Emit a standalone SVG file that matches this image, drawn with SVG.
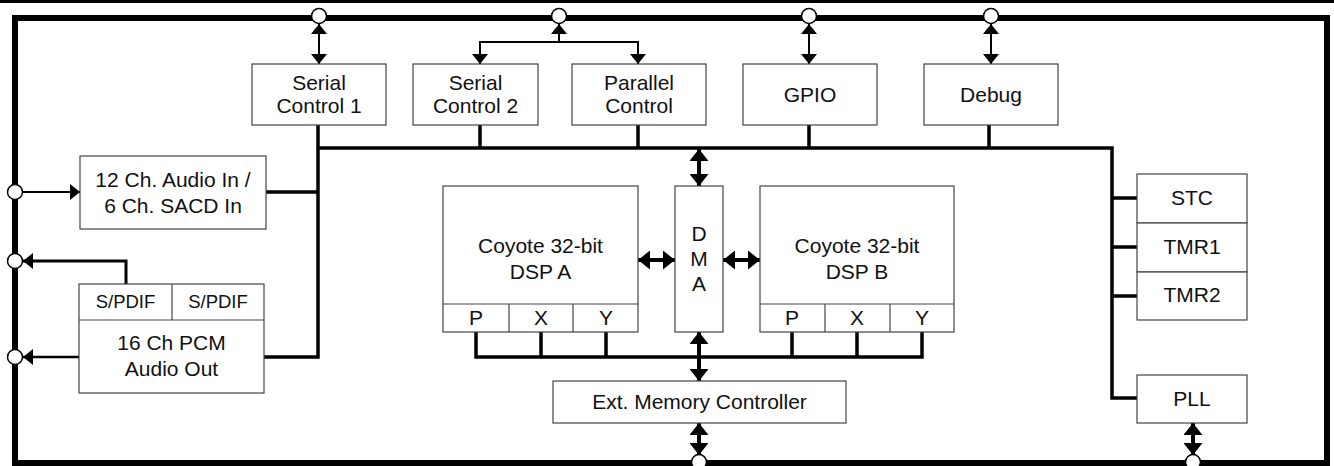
<svg xmlns="http://www.w3.org/2000/svg" width="1334" height="466" viewBox="0 0 1334 466">
<style>
.box{fill:#fff;stroke:#444;stroke-width:1.2}
.d{stroke:#444;stroke-width:1.2}
.t{font-family:"Liberation Sans",Arial,sans-serif;font-size:21px;fill:#111;text-anchor:middle}
.s{font-size:18.5px}
.pin{fill:#fff;stroke:#000;stroke-width:1.5}
.w{fill:none;stroke:#000;stroke-width:2}
.b{fill:none;stroke:#000;stroke-width:3.5}
.k{fill:none;stroke:#000;stroke-width:4}
</style>
<defs>
<marker id="a" markerUnits="userSpaceOnUse" markerWidth="11" markerHeight="16" refX="10" refY="8" orient="auto-start-reverse"><path d="M0,0 L10,8 L0,16 z" fill="#000"/></marker>
<marker id="A" markerUnits="userSpaceOnUse" markerWidth="13" markerHeight="19" refX="12" refY="9.5" orient="auto-start-reverse"><path d="M0,0 L12,9.5 L0,19 z" fill="#000"/></marker>
</defs>
<rect x="0" y="0" width="1334" height="3" fill="#000"/>
<rect id="frame" x="15" y="18" width="1312" height="445" fill="#fff" stroke="#000" stroke-width="6"/>

<g id="connectors">
<line class="w" x1="319" y1="24" x2="319" y2="64" marker-start="url(#a)" marker-end="url(#a)"/>
<line class="w" x1="559" y1="42" x2="559" y2="24" marker-end="url(#a)"/>
<path class="w" d="M480,64 L480,42 L638,42 L638,64" marker-start="url(#a)" marker-end="url(#a)"/>
<line class="w" x1="809" y1="24" x2="809" y2="64" marker-start="url(#a)" marker-end="url(#a)"/>
<line class="w" x1="991" y1="24" x2="991" y2="64" marker-start="url(#a)" marker-end="url(#a)"/>
<path class="b" d="M318,125 L318,357 L264,357"/>
<path class="b" d="M266,192 L318,192"/>
<path class="b" d="M318,148 L1112,148 L1112,398 L1137,398"/>
<path class="b" d="M480,125 V148 M638,125 V148 M809,125 V148 M989,125 V148"/>
<path class="b" d="M1112,198 H1137 M1112,247 H1137 M1112,296 H1137"/>
<line class="k" x1="699" y1="149" x2="699" y2="186" marker-start="url(#A)" marker-end="url(#A)"/>
<line class="k" x1="638" y1="260" x2="675" y2="260" marker-start="url(#A)" marker-end="url(#A)"/>
<line class="k" x1="723" y1="260" x2="760" y2="260" marker-start="url(#A)" marker-end="url(#A)"/>
<path class="b" d="M476,332 V357 H922 V332 M541,332 V357 M606,332 V357 M792,332 V357 M857,332 V357"/>
<line class="k" x1="699" y1="332" x2="699" y2="381" marker-start="url(#A)" marker-end="url(#A)"/>
<line class="k" x1="699" y1="423" x2="699" y2="455" marker-start="url(#A)" marker-end="url(#A)"/>
<line class="k" x1="1193" y1="423" x2="1193" y2="455" marker-start="url(#A)" marker-end="url(#A)"/>
<line class="w" x1="23" y1="192" x2="80" y2="192" marker-end="url(#a)"/>
<path class="w" style="stroke-width:3" d="M126,284 L126,261 L23,261" marker-end="url(#a)"/>
<line class="w" style="stroke-width:2.5" x1="79" y1="357" x2="23" y2="357" marker-end="url(#a)"/>
</g>

<g id="pins">
<circle class="pin" cx="319" cy="16" r="7.5"/>
<circle class="pin" cx="559" cy="16" r="7.5"/>
<circle class="pin" cx="809" cy="16" r="7.5"/>
<circle class="pin" cx="991" cy="16" r="7.5"/>
<circle class="pin" cx="15" cy="192" r="7.5"/>
<circle class="pin" cx="15" cy="261" r="7.5"/>
<circle class="pin" cx="15" cy="357" r="7.5"/>
<circle class="pin" cx="699" cy="462" r="7.5"/>
<circle class="pin" cx="1193" cy="462" r="7.5"/>
</g>

<g id="serial1"><rect class="box" x="252" y="64" width="134" height="61"/>
<text class="t" x="319" y="90">Serial</text><text class="t" x="319" y="113">Control 1</text></g>
<g id="serial2"><rect class="box" x="413" y="64" width="125" height="61"/>
<text class="t" x="475.5" y="90">Serial</text><text class="t" x="475.5" y="113">Control 2</text></g>
<g id="parallel"><rect class="box" x="572" y="64" width="134" height="61"/>
<text class="t" x="639" y="90">Parallel</text><text class="t" x="639" y="113">Control</text></g>
<g id="gpio"><rect class="box" x="743" y="64" width="134" height="61"/>
<text class="t" x="810" y="102">GPIO</text></g>
<g id="debug"><rect class="box" x="924" y="64" width="134" height="61"/>
<text class="t" x="991" y="102">Debug</text></g>

<g id="audioin"><rect class="box" x="80" y="156" width="186" height="73"/>
<text class="t" x="173" y="187">12 Ch. Audio In /</text><text class="t" x="173" y="213">6 Ch. SACD In</text></g>
<g id="audioout"><rect class="box" x="79" y="284" width="185" height="109"/>
<line class="d" x1="79" y1="320" x2="264" y2="320"/>
<line class="d" x1="172" y1="284" x2="172" y2="320"/>
<text class="t s" x="125.5" y="308">S/PDIF</text><text class="t s" x="218" y="308">S/PDIF</text>
<text class="t" x="171.5" y="350">16 Ch PCM</text><text class="t" x="171.5" y="376">Audio Out</text></g>

<g id="dspa"><rect class="box" x="443" y="186" width="195" height="146"/>
<line class="d" x1="443" y1="304" x2="638" y2="304"/>
<line class="d" x1="509" y1="304" x2="509" y2="332"/>
<line class="d" x1="573" y1="304" x2="573" y2="332"/>
<text class="t" x="540.5" y="253">Coyote 32-bit</text><text class="t" x="540.5" y="279">DSP A</text>
<text class="t" x="476" y="325">P</text><text class="t" x="541" y="325">X</text><text class="t" x="606" y="325">Y</text></g>
<g id="dma"><rect class="box" x="675" y="186" width="48" height="146"/>
<text class="t" x="699" y="241">D</text><text class="t" x="699" y="266">M</text><text class="t" x="699" y="291">A</text></g>
<g id="dspb"><rect class="box" x="760" y="186" width="194" height="146"/>
<line class="d" x1="760" y1="304" x2="954" y2="304"/>
<line class="d" x1="825" y1="304" x2="825" y2="332"/>
<line class="d" x1="890" y1="304" x2="890" y2="332"/>
<text class="t" x="857" y="253">Coyote 32-bit</text><text class="t" x="857" y="279">DSP B</text>
<text class="t" x="792" y="325">P</text><text class="t" x="857" y="325">X</text><text class="t" x="922" y="325">Y</text></g>
<g id="emc"><rect class="box" x="553" y="381" width="293" height="42"/>
<text class="t" x="699.5" y="409">Ext. Memory Controller</text></g>

<g id="stc"><rect class="box" x="1137" y="174" width="110" height="49"/><text class="t" x="1192" y="205">STC</text></g>
<g id="tmr1"><rect class="box" x="1137" y="223" width="110" height="49"/><text class="t" x="1192" y="254">TMR1</text></g>
<g id="tmr2"><rect class="box" x="1137" y="272" width="110" height="48"/><text class="t" x="1192" y="302">TMR2</text></g>
<g id="pll"><rect class="box" x="1137" y="375" width="110" height="48"/><text class="t" x="1192" y="406">PLL</text></g>
</svg>
